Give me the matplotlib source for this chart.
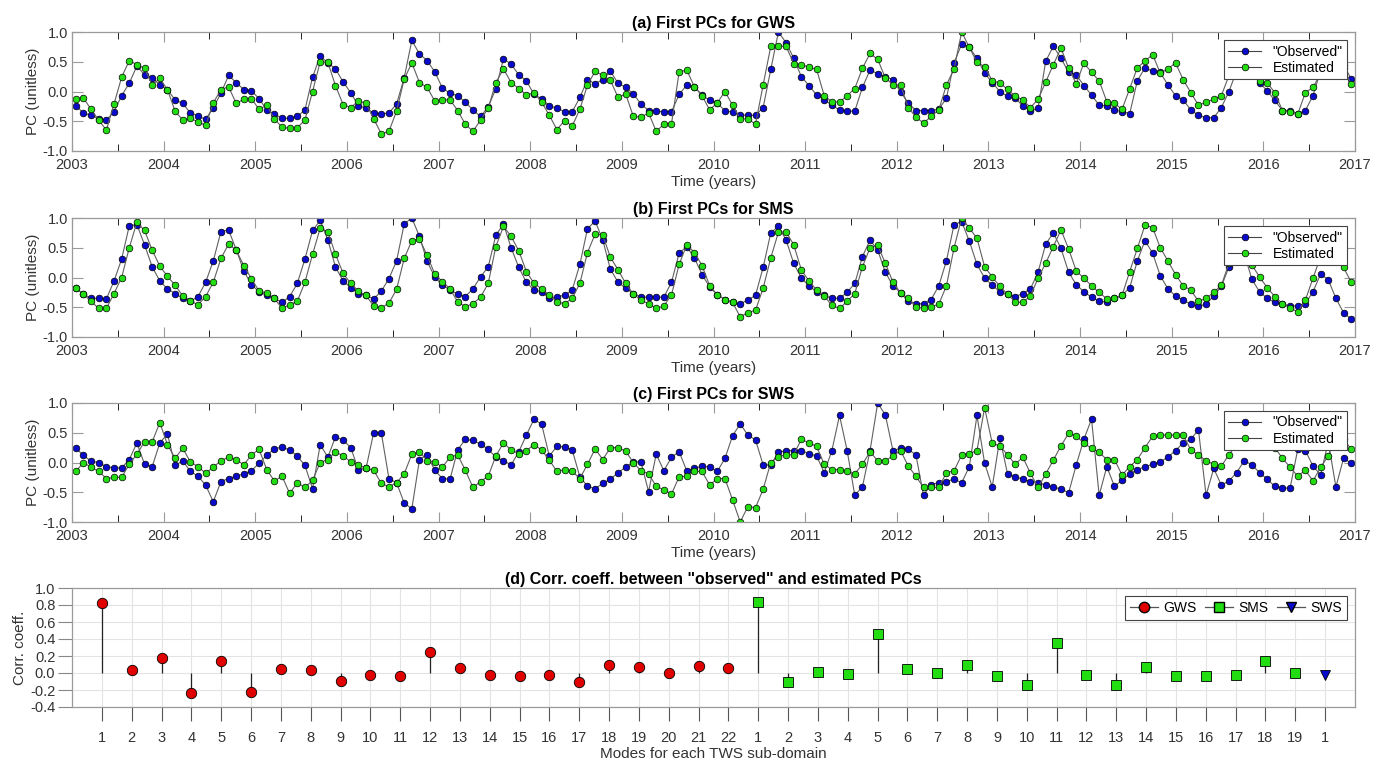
import numpy as np
import matplotlib
matplotlib.use("Agg")
import matplotlib.pyplot as plt
from matplotlib.lines import Line2D
from matplotlib.ticker import MultipleLocator, FormatStrFormatter

plt.rcParams["font.family"] = ["Liberation Sans", "DejaVu Sans"]

# monthly PCs, Jan 2003 - Dec 2016 (one row per year)
gws_obs = [
    -0.24, -0.36, -0.40, -0.46, -0.48, -0.34, -0.07, 0.14, 0.43, 0.28, 0.23, 0.11,
    0.03, -0.14, -0.20, -0.36, -0.41, -0.47, -0.27, -0.03, 0.27, 0.15, 0.03, 0.01,
    -0.12, -0.31, -0.38, -0.45, -0.45, -0.42, -0.31, 0.24, 0.60, 0.48, 0.38, 0.16,
    -0.02, -0.24, -0.28, -0.36, -0.38, -0.36, -0.21, 0.23, 0.86, 0.63, 0.52, 0.33,
    0.06, -0.03, -0.07, -0.18, -0.31, -0.42, -0.26, 0.05, 0.55, 0.46, 0.28, 0.18,
    -0.05, -0.12, -0.24, -0.28, -0.34, -0.34, -0.10, 0.20, 0.13, 0.20, 0.34, 0.14,
    0.07, -0.04, -0.21, -0.32, -0.33, -0.34, -0.34, -0.05, 0.11, 0.08, -0.06, -0.15,
    -0.20, -0.32, -0.35, -0.39, -0.40, -0.40, -0.27, 0.37, 1.00, 0.82, 0.56, 0.25,
    0.10, -0.06, -0.14, -0.23, -0.31, -0.33, -0.33, 0.07, 0.36, 0.30, 0.25, 0.20,
    -0.01, -0.19, -0.32, -0.32, -0.32, -0.30, -0.11, 0.48, 0.80, 0.74, 0.56, 0.31,
    0.15, 0.00, -0.08, -0.11, -0.24, -0.33, -0.28, 0.51, 0.76, 0.56, 0.32, 0.28,
    0.10, -0.06, -0.23, -0.24, -0.31, -0.34, -0.37, 0.18, 0.40, 0.34, 0.32, 0.11,
    -0.07, -0.14, -0.31, -0.40, -0.44, -0.44, -0.27, 0.00, 0.35, 0.45, 0.35, 0.15,
    0.01, -0.15, -0.32, -0.32, -0.37, -0.32, -0.07, 0.35, 0.55, 0.60, 0.45, 0.21,
]
gws_est = [
    -0.12, -0.11, -0.30, -0.48, -0.65, -0.21, 0.24, 0.52, 0.45, 0.39, 0.11, 0.22,
    0.03, -0.33, -0.48, -0.45, -0.51, -0.57, -0.19, 0.03, 0.08, -0.20, -0.13, -0.12,
    -0.30, -0.23, -0.46, -0.60, -0.62, -0.61, -0.48, 0.00, 0.50, 0.49, 0.10, -0.22,
    -0.27, -0.16, -0.20, -0.46, -0.71, -0.67, -0.33, 0.21, 0.48, 0.15, 0.07, -0.16,
    -0.14, -0.14, -0.32, -0.55, -0.67, -0.48, -0.28, 0.15, 0.38, 0.15, 0.05, -0.06,
    -0.02, -0.18, -0.40, -0.64, -0.49, -0.58, -0.30, 0.11, 0.34, 0.27, 0.19, -0.10,
    -0.04, -0.42, -0.43, -0.36, -0.67, -0.55, -0.54, 0.33, 0.36, 0.08, -0.07, -0.31,
    -0.19, 0.00, -0.23, -0.46, -0.46, -0.55, 0.11, 0.76, 0.76, 0.76, 0.47, 0.45,
    0.41, 0.37, -0.07, -0.17, -0.18, -0.07, 0.05, 0.39, 0.64, 0.54, 0.23, 0.11,
    0.11, -0.27, -0.43, -0.53, -0.42, -0.31, 0.11, 0.38, 1.00, 0.74, 0.49, 0.42,
    0.18, 0.14, 0.04, -0.08, -0.14, -0.27, -0.13, 0.16, 0.45, 0.73, 0.39, 0.13,
    0.48, 0.32, 0.18, -0.17, -0.20, -0.30, 0.05, 0.40, 0.51, 0.62, 0.31, 0.38,
    0.48, 0.20, -0.02, -0.23, -0.18, -0.13, -0.07, 0.27, 0.50, 0.55, 0.40, 0.17,
    0.15, -0.02, -0.32, -0.34, -0.38, -0.02, 0.07, 0.30, 0.50, 0.55, 0.40, 0.12,
]
sms_obs = [
    -0.18, -0.28, -0.35, -0.35, -0.36, -0.06, 0.31, 0.87, 0.89, 0.55, 0.18, -0.06,
    -0.19, -0.27, -0.35, -0.40, -0.32, -0.08, 0.28, 0.77, 0.80, 0.47, 0.11, -0.12,
    -0.24, -0.30, -0.35, -0.42, -0.32, -0.10, 0.31, 0.79, 0.96, 0.63, 0.18, -0.06,
    -0.17, -0.27, -0.30, -0.36, -0.23, -0.02, 0.28, 0.90, 1.00, 0.69, 0.27, 0.01,
    -0.13, -0.21, -0.28, -0.32, -0.19, 0.01, 0.18, 0.71, 0.90, 0.50, 0.17, -0.08,
    -0.21, -0.24, -0.35, -0.32, -0.30, -0.21, 0.22, 0.82, 0.95, 0.63, 0.14, -0.08,
    -0.18, -0.27, -0.33, -0.33, -0.33, -0.33, -0.08, 0.41, 0.52, 0.33, 0.05, -0.16,
    -0.29, -0.37, -0.42, -0.44, -0.38, -0.30, 0.17, 0.75, 0.86, 0.63, 0.24, -0.01,
    -0.14, -0.24, -0.30, -0.35, -0.35, -0.25, -0.10, 0.35, 0.63, 0.46, 0.09, -0.14,
    -0.26, -0.40, -0.44, -0.44, -0.37, -0.14, 0.28, 0.89, 0.94, 0.61, 0.22, -0.01,
    -0.13, -0.24, -0.28, -0.32, -0.27, -0.19, 0.09, 0.56, 0.75, 0.49, 0.09, -0.12,
    -0.24, -0.33, -0.40, -0.41, -0.35, -0.30, -0.17, 0.28, 0.62, 0.41, 0.03, -0.19,
    -0.31, -0.38, -0.45, -0.48, -0.45, -0.31, -0.15, 0.18, 0.50, 0.40, -0.03, -0.24,
    -0.35, -0.42, -0.45, -0.48, -0.48, -0.44, -0.24, 0.06, -0.04, -0.35, -0.59, -0.70,
]
sms_est = [
    -0.18, -0.28, -0.40, -0.52, -0.52, -0.27, 0.00, 0.50, 0.93, 0.79, 0.46, 0.19,
    0.02, -0.13, -0.31, -0.39, -0.46, -0.32, -0.08, 0.32, 0.56, 0.46, 0.20, -0.02,
    -0.23, -0.26, -0.35, -0.52, -0.46, -0.40, -0.08, 0.39, 0.83, 0.77, 0.39, 0.07,
    -0.10, -0.23, -0.30, -0.48, -0.51, -0.43, -0.20, 0.32, 0.62, 0.65, 0.37, 0.06,
    -0.07, -0.19, -0.41, -0.49, -0.44, -0.33, -0.10, 0.52, 0.86, 0.69, 0.45, 0.10,
    -0.10, -0.19, -0.30, -0.41, -0.44, -0.35, -0.10, 0.42, 0.73, 0.71, 0.34, 0.13,
    -0.10, -0.28, -0.38, -0.44, -0.52, -0.48, -0.29, 0.22, 0.55, 0.42, 0.20, -0.14,
    -0.29, -0.37, -0.42, -0.66, -0.59, -0.55, -0.18, 0.33, 0.76, 0.77, 0.55, 0.13,
    -0.06, -0.21, -0.31, -0.47, -0.52, -0.40, -0.27, 0.18, 0.50, 0.54, 0.24, -0.08,
    -0.26, -0.35, -0.49, -0.52, -0.49, -0.45, -0.14, 0.50, 1.00, 0.83, 0.66, 0.18,
    0.01, -0.15, -0.28, -0.41, -0.42, -0.31, -0.01, 0.24, 0.52, 0.80, 0.48, 0.11,
    -0.01, -0.14, -0.25, -0.36, -0.35, -0.30, 0.10, 0.49, 0.88, 0.84, 0.50, 0.28,
    0.05, -0.14, -0.21, -0.40, -0.35, -0.25, -0.13, 0.24, 0.45, 0.55, 0.21, 0.01,
    -0.17, -0.32, -0.44, -0.51, -0.58, -0.38, -0.01, 0.35, 0.45, 0.35, 0.17, -0.08,
]
sws_obs = [
    0.24, 0.12, 0.02, 0.00, -0.07, -0.09, -0.09, 0.05, 0.33, -0.03, -0.07, 0.33,
    0.48, -0.05, 0.03, -0.15, -0.23, -0.38, -0.66, -0.32, -0.27, -0.23, -0.19, -0.14,
    -0.01, 0.12, 0.23, 0.26, 0.21, 0.11, -0.05, -0.44, 0.30, 0.09, 0.43, 0.38,
    0.25, -0.12, -0.10, 0.50, 0.50, -0.27, -0.34, -0.68, -0.78, 0.05, 0.13, -0.13,
    -0.27, -0.28, 0.21, 0.39, 0.37, 0.31, 0.22, 0.09, 0.03, -0.04, 0.18, 0.46,
    0.73, 0.64, 0.11, 0.27, 0.26, 0.21, -0.24, -0.40, -0.44, -0.35, -0.28, -0.17,
    -0.08, 0.01, 0.01, -0.49, 0.14, -0.14, 0.09, 0.18, -0.14, -0.10, -0.06, -0.08,
    -0.15, 0.07, 0.45, 0.65, 0.46, 0.38, -0.04, -0.04, 0.17, 0.20, 0.20, 0.20,
    0.15, 0.11, -0.17, 0.20, 0.79, 0.20, -0.55, -0.41, 0.20, 1.00, 0.80, 0.20,
    0.24, 0.22, 0.13, -0.55, -0.37, -0.34, -0.32, -0.28, -0.34, -0.07, 0.79, -0.01,
    -0.41, 0.41, -0.19, -0.24, -0.28, -0.32, -0.34, -0.38, -0.42, -0.44, -0.51, -0.04,
    0.39, 0.73, -0.55, -0.07, -0.40, -0.30, -0.19, -0.12, -0.07, -0.03, 0.01, 0.09,
    0.20, 0.33, 0.39, 0.55, -0.55, -0.10, -0.38, -0.31, -0.17, 0.03, -0.04, -0.17,
    -0.28, -0.40, -0.43, -0.43, 0.22, 0.20, -0.06, -0.21, 0.35, -0.41, 0.07, -0.01,
]
sws_est = [
    -0.15, 0.00, -0.08, -0.15, -0.27, -0.25, -0.25, -0.03, 0.14, 0.35, 0.35, 0.67,
    0.30, 0.07, 0.24, 0.01, -0.07, -0.18, -0.08, 0.03, 0.09, 0.05, -0.04, 0.13,
    0.22, -0.12, -0.31, -0.23, -0.52, -0.34, -0.42, -0.30, 0.00, 0.05, 0.18, 0.11,
    0.01, -0.04, -0.10, -0.13, -0.35, -0.41, -0.34, -0.19, 0.14, 0.18, 0.03, 0.01,
    -0.08, 0.09, 0.13, -0.13, -0.42, -0.32, -0.23, 0.11, 0.33, 0.21, 0.15, 0.20,
    0.30, 0.21, 0.04, -0.15, -0.12, -0.15, -0.27, -0.03, 0.23, 0.05, 0.25, 0.25,
    0.19, 0.00, -0.14, -0.19, -0.40, -0.46, -0.53, -0.24, -0.23, -0.15, -0.15, -0.38,
    -0.27, -0.27, -0.63, -1.00, -0.74, -0.76, -0.45, 0.00, 0.10, 0.13, 0.13, 0.39,
    0.33, 0.27, -0.03, -0.12, -0.12, -0.15, -0.19, -0.03, 0.18, 0.03, 0.03, 0.11,
    0.20, -0.06, -0.23, -0.42, -0.42, -0.42, -0.17, -0.14, 0.13, 0.15, 0.20, 0.92,
    0.32, 0.28, 0.13, -0.03, 0.09, -0.18, -0.42, -0.19, 0.04, 0.28, 0.49, 0.45,
    0.32, 0.24, 0.17, 0.05, 0.05, -0.21, -0.07, 0.05, 0.25, 0.44, 0.46, 0.46,
    0.46, 0.46, 0.21, 0.13, 0.03, -0.03, -0.06, 0.13, 0.30, 0.35, 0.40, 0.35,
    0.30, 0.25, 0.07, -0.08, -0.23, -0.13, -0.31, -0.08, 0.11, 0.45, 0.40, 0.22,
]

# correlation coefficients per mode
gws_corr = [0.82, 0.03, 0.18, -0.23, 0.14, -0.22, 0.05, 0.03, -0.09, -0.02, -0.04,
            0.25, 0.06, -0.02, -0.03, -0.02, -0.10, 0.09, 0.07, 0.00, 0.08, 0.06]
sms_corr = [0.84, -0.10, 0.01, -0.01, 0.46, 0.05, 0.00, 0.09, -0.04, -0.14,
            0.35, -0.02, -0.14, 0.07, -0.04, -0.04, -0.02, 0.14, 0.00]
sws_corr = [-0.02]

years = np.arange(2003, 2018)
months = 2003 + (np.arange(len(gws_obs)) + 0.5) / 12

BLUE = "#0a0acc"
GREEN = "#22dd11"
LINE = "#606060"
SPINE = "#9a9a9a"
TXT = "#333333"

fig = plt.figure(figsize=(13.87, 7.62), dpi=100)
L, W, H = 72 / 1387, 1283 / 1387, 119 / 762


def style_axes(ax):
    for s in ax.spines.values():
        s.set_color(SPINE)
        s.set_linewidth(0.9)
    ax.tick_params(colors=SPINE, labelcolor=TXT, labelsize=10.5)


panels = [
    ("(a) First PCs for GWS", gws_obs, gws_est, 151),
    ("(b) First PCs for SMS", sms_obs, sms_est, 337),
    ("(c) First PCs for SWS", sws_obs, sws_est, 522),
]
for title, obs, est, ybot in panels:
    ax = fig.add_axes([L, 1 - ybot / 762, W, H])
    ax.plot(months, obs, "-o", color=LINE, lw=0.8, ms=4.8, mfc=BLUE, mec="black",
            mew=0.5, label='"Observed"')
    ax.plot(months, est, "-o", color=LINE, lw=0.8, ms=4.8, mfc=GREEN, mec="black",
            mew=0.5, label="Estimated")
    ax.set_xlim(2003, 2017)
    ax.set_ylim(-1, 1)
    ax.set_xticks(years)
    ax.xaxis.set_minor_locator(MultipleLocator(0.5))
    ax.yaxis.set_major_locator(MultipleLocator(0.5))
    ax.yaxis.set_major_formatter(FormatStrFormatter("%.1f"))
    style_axes(ax)
    ax.tick_params(axis="x", which="both", direction="in", top=True, pad=5)
    ax.tick_params(axis="x", which="major", length=7)
    ax.tick_params(axis="x", which="minor", length=5)
    ax.tick_params(axis="y", direction="in", right=True, length=8, pad=3)
    ax.set_title(title, fontsize=11.5, fontweight="bold", pad=3)
    ax.set_xlabel("Time (years)", fontsize=11, color=TXT, labelpad=2)
    ax.set_ylabel("PC (unitless)", fontsize=11, color=TXT, labelpad=2)
    leg = ax.legend(loc="upper right", fontsize=10, frameon=True, fancybox=False,
                    edgecolor="#444444", framealpha=1, handlelength=2.4,
                    borderpad=0.3, labelspacing=0.2, borderaxespad=0.6)
    leg.get_frame().set_linewidth(0.8)
    for h in leg.get_lines():
        h.set_color("#444444")

# (d) stem plot of correlation coefficients
axd = fig.add_axes([L, 1 - 707 / 762, W, H])
x_g = np.arange(1, len(gws_corr) + 1)
x_s = np.arange(len(gws_corr) + 1, len(gws_corr) + len(sms_corr) + 1)
x_w = np.arange(x_s[-1] + 1, x_s[-1] + len(sws_corr) + 1)

for xs, ys, mk, fc, ms in [(x_g, gws_corr, "o", "#e00000", 7.5),
                           (x_s, sms_corr, "s", GREEN, 6.5),
                           (x_w, sws_corr, "v", BLUE, 7.5)]:
    ml, sl, bl = axd.stem(xs, ys, linefmt="-", markerfmt=mk, basefmt=" ")
    sl.set_color("#222222")
    sl.set_linewidth(0.9)
    ml.set_markerfacecolor(fc)
    ml.set_markeredgecolor("black")
    ml.set_markeredgewidth(0.6)
    ml.set_markersize(ms)
    ml.set_zorder(3)

tick_labels = ([str(i) for i in range(1, len(gws_corr) + 1)]
               + [str(i) for i in range(1, len(sms_corr) + 1)]
               + [str(i) for i in range(1, len(sws_corr) + 1)])
axd.set_xticks(np.concatenate([x_g, x_s, x_w]))
axd.set_xticklabels(tick_labels)
axd.set_xlim(0, 43)
axd.set_ylim(-0.4, 1.0)
axd.yaxis.set_major_locator(MultipleLocator(0.2))
axd.yaxis.set_major_formatter(FormatStrFormatter("%.1f"))
axd.grid(True, color="#e3e3e3", lw=0.8)
axd.set_axisbelow(True)
style_axes(axd)
axd.tick_params(axis="x", direction="out", length=10, pad=7, colors="#555555",
                labelcolor=TXT)
axd.tick_params(axis="y", direction="out", length=10, pad=2, colors="#888888",
                labelcolor=TXT)
axd.set_title('(d) Corr. coeff. between "observed" and estimated PCs', fontsize=11.5,
              fontweight="bold", pad=3)
axd.set_xlabel("Modes for each TWS sub-domain", fontsize=11, color=TXT, labelpad=2)
axd.set_ylabel("Corr. coeff.", fontsize=11, color=TXT, labelpad=2)

handles = [
    Line2D([], [], color="#555555", lw=0.9, marker="o", ms=7.5, mfc="#e00000", mec="black"),
    Line2D([], [], color="#555555", lw=0.9, marker="s", ms=6.5, mfc=GREEN, mec="black"),
    Line2D([], [], color="#555555", lw=0.9, marker="v", ms=7.5, mfc=BLUE, mec="black"),
]
legd = axd.legend(handles, ["GWS", "SMS", "SWS"], loc="upper right", ncol=3,
                  fontsize=10, fancybox=False, edgecolor="#444444", framealpha=1,
                  handlelength=2.0, columnspacing=0.6, handletextpad=0.4,
                  borderpad=0.35, borderaxespad=0.6)
legd.get_frame().set_linewidth(0.8)

fig.savefig("out.png", dpi=100)
